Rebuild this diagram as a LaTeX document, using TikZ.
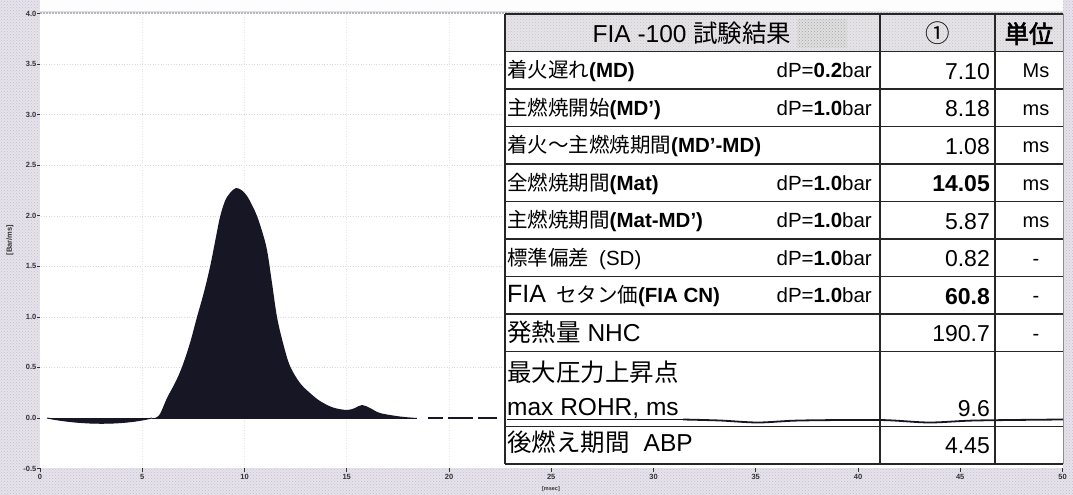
\documentclass[tikz,border=0pt]{standalone}
\usepackage{fontspec}
\setmainfont{Liberation Sans}
\newfontfamily\jpfont{Noto Sans CJK JP}[AutoFakeBold=2.5]
\usetikzlibrary{patterns}
\definecolor{bgspeck}{RGB}{230,227,234}
\definecolor{speck}{RGB}{176,160,196}
\definecolor{curvefill}{RGB}{22,22,36}
\definecolor{hdrfill}{RGB}{230,228,232}
\newcommand{\J}[1]{{\jpfont #1}}
\begin{document}
\begin{tikzpicture}[x=1pt,y=-1pt,
  ticklbl/.style={font=\fontsize{7.5}{8}\selectfont\bfseries, inner sep=0pt, text=black!80},
  lbl/.style={anchor=base west, inner sep=0pt, font=\fontsize{20.5}{24}\selectfont},
  lblL/.style={anchor=base west, inner sep=0pt, font=\fontsize{24.5}{28}\selectfont},
  hdr/.style={anchor=base, inner sep=0pt, font=\fontsize{24.5}{28}\selectfont},
  dpval/.style={anchor=base east, inner sep=0pt, font=\fontsize{20.5}{24}\selectfont},
  numval/.style={anchor=base east, inner sep=0pt, font=\fontsize{23}{26}\selectfont},
  unitval/.style={anchor=base, inner sep=0pt, font=\fontsize{20}{24}\selectfont},
  gridln/.style={gray!30, dotted, line width=0.6pt},
  tabrule/.style={line width=1.6pt, black!85},
  tabvrule/.style={line width=1.3pt, black!85},
]
\useasboundingbox (0,0) rectangle (1073,495);
% scanned background
\fill[bgspeck] (0,0) rectangle (1073,495);
\fill[pattern=crosshatch dots, pattern color=speck!70] (0,0) rectangle (1073,495);
\fill[white!94!bgspeck] (40,0) rectangle (1063,11);
% plot area
\fill[white] (40,13) rectangle (1063,468);
\draw[gray!55, line width=1.5pt, dash pattern=on 2pt off 1pt] (40,13) -- (1063,13);
% grid
\foreach \yy in {64.1,114.7,165.2,215.8,266.3,316.9,367.4}
  \draw[gridln] (41,\yy) -- (1062,\yy);
\foreach \xx in {142.2,244.5,346.7,449}
  \draw[gray!18, dotted, line width=0.6pt] (\xx,14) -- (\xx,467);
% y ticks
\foreach \v/\yy [count=\i] in {4.0/13.6,3.5/64.1,3.0/114.7,2.5/165.2,2.0/215.8,1.5/266.3,1.0/316.9,0.5/367.4,0.0/418,-0.5/468.5}{
  \node[ticklbl, anchor=east] (yt\i) at (36.5,\yy) {\v};
  \draw[black!80, line width=0.8pt] (37,\yy) -- (40,\yy);
}
\node[ticklbl, rotate=90] (ylab) at (10,240) {[Bar/ms]};
% x ticks
\foreach \t/\xx [count=\i] in {0/40,5/142.2,10/244.5,15/346.7,20/449,25/551.2,30/653.5,35/755.7,40/858,45/960.2,50/1062.5}{
  \draw[black!80, line width=0.8pt] (\xx,468) -- (\xx,471.5);
  \node[ticklbl] (xt\i) at (\xx,477) {\t};
}
\node[ticklbl, font=\fontsize{5.5}{6}\selectfont\bfseries] (xlab) at (551,489) {[msec]};
% curve
\fill[curvefill] (47,418) .. controls (80,424.5) and (120,425.5) .. (152,418) -- cycle;
\draw[curvefill, line width=1pt] (47,418) .. controls (80,424.5) and (120,425.5) .. (152,418);
\fill[curvefill] plot[smooth, tension=0.55] coordinates {(155,418) (160,414) (167,398) (175,383) (182,367) (190,343) (197,317) (204,292) (210,267) (215,242) (220,217) (225,201) (230,193) (236,188) (242,190.5) (247,196) (252,205) (257,216) (262,231) (267,250) (272,283) (277,317) (283,343) (290,366) (300,383) (310,393) (320,401) (333,407.5) (347,410) (355,408) (362,405) (370,408) (380,413) (400,416.5) (417,418)} -- cycle;
\draw[curvefill, line width=1pt] (152,418) -- (417,418);
\draw[curvefill, line width=1.3pt] (428,418) -- (443,418);
\draw[curvefill, line width=1.3pt] (448,418) -- (473,418);
\draw[curvefill, line width=1.3pt] (478,418) -- (497,418);
% table body
\fill[white] (505,14) rectangle (1063,464);
\fill[hdrfill] (505,14) rectangle (1063,51.5);
\fill[pattern=crosshatch dots, pattern color=gray!45] (505,14) rectangle (1063,51.5);
\fill[gray!25] (797,19) rectangle (847,48);
\fill[pattern=crosshatch dots, pattern color=gray!70] (797,19) rectangle (847,48);
% header
\node[hdr] (h1) at (692,43) {FIA -100 \J{試験結果}};
\node[hdr] (h2) at (937.5,43) {\J{①}};
\node[hdr] (h3) at (1029,43) {\J{\bfseries 単位}};
% rows
\node[lbl] (l1) at (507,77.75) {\J{着火遅れ}\textbf{(MD)}};
\node[dpval] (d1) at (872,77.75) {dP=\textbf{0.2}bar};
\node[numval] (v1) at (990,79.25) {7.10};
\node[unitval] (u1) at (1036,77.75) {Ms};

\node[lbl] (l2) at (507,115.25) {\J{主燃焼開始}\textbf{(MD’)}};
\node[dpval] (d2) at (872,115.25) {dP=\textbf{1.0}bar};
\node[numval] (v2) at (990,116.75) {8.18};
\node[unitval] (u2) at (1036,115.25) {ms};

\node[lbl] (l3) at (507,152.75) {\J{着火～主燃焼期間}\textbf{(MD’-MD)}};
\node[numval] (v3) at (990,154.25) {1.08};
\node[unitval] (u3) at (1036,152.75) {ms};

\node[lbl] (l4) at (507,190.25) {\J{全燃焼期間}\textbf{(Mat)}};
\node[dpval] (d4) at (872,190.25) {dP=\textbf{1.0}bar};
\node[numval] (v4) at (990,191.75) {\textbf{14.05}};
\node[unitval] (u4) at (1036,190.25) {ms};

\node[lbl] (l5) at (507,227.75) {\J{主燃焼期間}\textbf{(Mat-MD’)}};
\node[dpval] (d5) at (872,227.75) {dP=\textbf{1.0}bar};
\node[numval] (v5) at (990,229.25) {5.87};
\node[unitval] (u5) at (1036,227.75) {ms};

\node[lbl] (l6) at (507,265.25) {\J{標準偏差}\hspace{10pt}(SD)};
\node[dpval] (d6) at (872,265.25) {dP=\textbf{1.0}bar};
\node[numval] (v6) at (990,266.75) {0.82};
\node[unitval] (u6) at (1036,265.25) {-};

\node[lbl] (l7) at (507,302.75) {{\fontsize{25}{28}\selectfont FIA}\hspace{10pt}\J{セタン価}\textbf{(FIA CN)}};
\node[dpval] (d7) at (872,302.75) {dP=\textbf{1.0}bar};
\node[numval] (v7) at (990,304.25) {\textbf{60.8}};
\node[unitval] (u7) at (1036,302.75) {-};

\node[lblL] (l8) at (507,341.5) {\J{発熱量} NHC};
\node[numval] (v8) at (990,341.75) {190.7};
\node[unitval] (u8) at (1036,340.25) {-};

\node[lblL] (l9) at (507,381) {\J{最大圧力上昇点}};
\node[lblL] (l10) at (507,415) {max ROHR, ms};
\node[numval] (v9) at (990,416) {9.6};

\node[lblL] (l11) at (507,451) {\J{後燃え期間}\hspace{14pt}ABP};
\node[numval] (v11) at (990,453) {4.45};
% table rules
\foreach \yy in {14,51.5,89,126.5,164,201.5,239,276.5,314,351.5,426.5,464}
  \draw[tabrule] (505,\yy) -- (1063,\yy);
\draw[tabvrule] (505,14) -- (505,464);
\draw[tabvrule] (880,14) -- (880,464);
\draw[tabvrule] (995,14) -- (995,464);
\draw[black!45, line width=0.8pt] (1063,14) -- (1063,464);
% baseline of the curve showing over the table
\draw[curvefill, line width=0.9pt] (507,419) -- (683,419);
\draw[curvefill, line width=1.8pt] plot[smooth] coordinates {(683,419.5) (720,420.5) (758,422.5) (800,420.5) (880,420) (929,422.5) (975,420.5) (1063,419.5)};
\end{tikzpicture}
\end{document}
